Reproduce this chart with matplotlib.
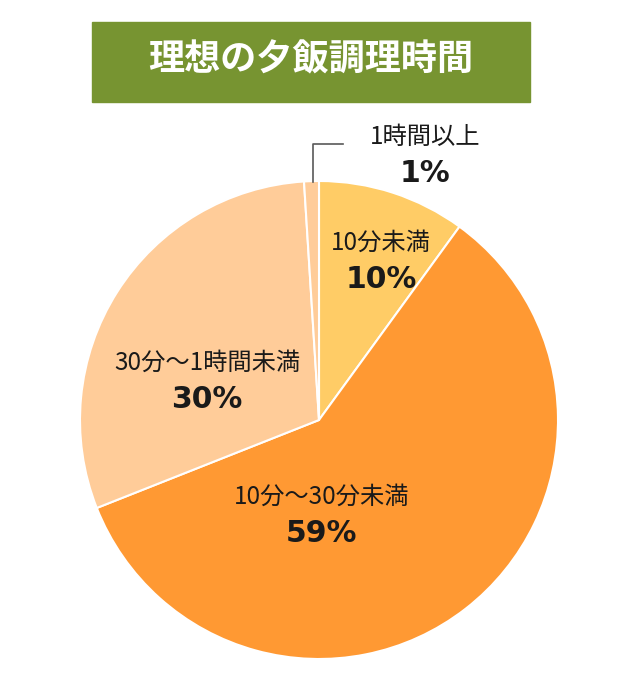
import matplotlib
matplotlib.use('Agg')
import matplotlib.pyplot as plt
from matplotlib.patches import Rectangle

plt.rcParams['font.family'] = ['Noto Sans CJK JP', 'DejaVu Sans']

title = '理想の夕飯調理時間'
labels = ['10分未満', '10分～30分未満', '30分～1時間未満', '1時間以上']
values = [10, 59, 30, 1]
colors = ['#FFCC66', '#FF9933', '#FFCC99', '#FFCC99']

fig = plt.figure(figsize=(6.2, 7), dpi=100)
ax = fig.add_axes([0, 0, 1, 1])

# title box
ax.add_patch(Rectangle((92, 700 - 102), 438, 80, color='#779431'))
ax.text(311, 700 - 60, title, color='white', fontsize=26, fontweight='bold',
        ha='center', va='center')

ax.pie(values, colors=colors, startangle=90, counterclock=False,
       center=(319, 280), radius=239, frame=True,
       wedgeprops=dict(edgecolor='white', linewidth=1.5))
ax.set_xlim(0, 620)
ax.set_ylim(0, 700)
ax.axis('off')

# label positions (x, y of name line) in pixels from top
pos = [(381, 243), (322, 497), (207, 363), (425, 137)]
for lab, v, (x, y) in zip(labels, values, pos):
    ax.text(x, 700 - y, lab, fontsize=17.5, ha='center', va='center', color='#1a1a1a')
    ax.text(x, 700 - y - 37, f'{v}%', fontsize=21.5, fontweight='bold',
            family='DejaVu Sans', ha='center', va='center', color='#1a1a1a')

# leader line for the small slice
ax.plot([313, 313, 343], [700 - 182, 700 - 144, 700 - 144], color='#595959', lw=1.2)

fig.savefig('out.png', dpi=100)
